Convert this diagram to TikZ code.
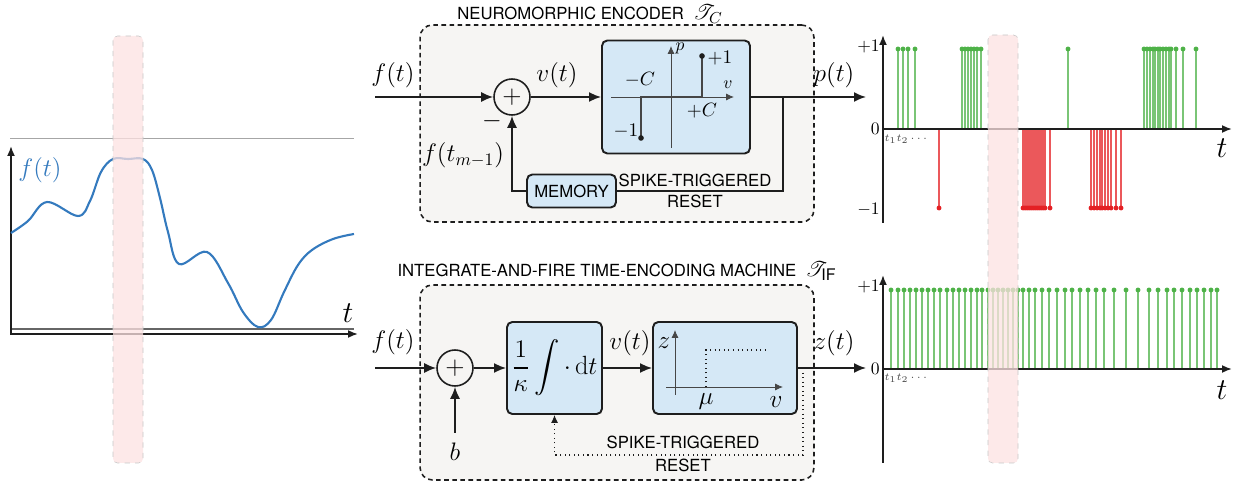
\documentclass[tikz,border=0pt]{standalone}
\usepackage{fontspec}
\setsansfont{TeX Gyre Heros}
\usepackage{amsmath}
\usepackage{mathrsfs}
\usetikzlibrary{positioning,arrows.meta}
\definecolor{encBlue}{RGB}{213,232,246}
\definecolor{encSoft}{RGB}{246,245,243}
\definecolor{encInk}{RGB}{30,30,30}
\definecolor{encStep}{RGB}{70,70,70}
\definecolor{encGreen}{RGB}{78,178,72}
\definecolor{encRed}{RGB}{228,32,36}
\definecolor{encCurve}{RGB}{52,122,190}
\definecolor{encPink}{RGB}{253,226,226}

\begin{document}
\begin{tikzpicture}[x=0.02cm, y=-0.02cm,
    encframe/.style={draw=encInk, line width=0.9pt, dash pattern=on 2.6pt off 2pt,
      rounded corners=7pt, fill=encSoft, inner sep=0pt},
    block/.style={draw=encInk, line width=1.1pt, rounded corners=3pt, fill=encBlue, inner sep=0pt},
    sumnode/.style={draw=encInk, circle, line width=0.9pt, minimum size=0.72cm, inner sep=0pt,
      font=\Large},
    arrow/.style={-{Latex[length=2.4mm,width=2mm]}, line width=1pt, color=encInk},
    wire/.style={line width=1pt, color=encInk},
    dotwire/.style={line width=0.6pt, dotted, color=encInk},
    maths/.style={font=\fontsize{14.5}{17}\selectfont, inner sep=1pt},
    caps/.style={font=\sffamily\fontsize{9.5}{11.5}\selectfont, align=center, inner sep=0pt},
    ticklbl/.style={font=\fontsize{10}{11}\selectfont, inner sep=0.5pt},
    boxaxis/.style={-{Latex[length=1.6mm,width=1.4mm]}, line width=0.5pt, color=encStep},
    plotaxis/.style={-{Latex[length=2mm,width=1.6mm]}, line width=1pt, color=encInk},
    stair/.style={line width=1.1pt, color=encStep},
    spikeup/.style={draw=encGreen!75, line width=0.7pt},
    spikedn/.style={draw=encRed!75, line width=0.6pt},
    hilite/.style={fill=encPink, fill opacity=0.75, draw=gray!45, dashed, line width=0.3pt,
      rounded corners=2.5pt}
  ]
    \useasboundingbox (0,0) rectangle (1242,486);

    % input signal
    \draw[gray!70, line width=0.5pt] (10,138) -- (354,138);
    \draw[gray!80!black, line width=0.6pt] (11,329) -- (354,329);
    \draw[plotaxis] (11,335) -- (11,146);
    \draw[plotaxis] (11,334) -- (358,334);
    \draw[encCurve, line width=1.2pt] plot[smooth, tension=0.6] coordinates {
      (11,233) (28,221) (47,202) (78,216) (90,201) (101,172) (113,159)
      (128,159) (143,159) (152,170) (160,198) (168,232) (179,264) (207,252)
      (228,283) (243,312) (258,327) (271,320) (284,292) (298,265) (312,250)
      (333,239) (354,234)};
    \node[maths, text=encCurve] (fSig) at (40,170) {$f(t)$};
    \node[font=\fontsize{17}{17}\selectfont] (tSig) at (348,313) {$t$};
    \draw[hilite] (113,36) rectangle (143,463);

    % neuromorphic encoder
    \node[encframe, minimum width=7.88cm, minimum height=3.94cm] (encC) at (617,123.5) {};
    \node[caps] (titleC) at (590,14)
      {NEUROMORPHIC ENCODER\ \ {\fontsize{13}{13}\selectfont$\mathscr{T}_C$}};
    \node[sumnode] (sumC) at (512,97) {$+$};
    \node[block, minimum width=2.96cm, minimum height=2.26cm] (quant) at (676,97) {};
    \node[block, caps, minimum width=1.78cm, minimum height=0.66cm] (mem) at (571.5,191) {MEMORY};

    \coordinate (inC) at (375,97);
    \coordinate (outC) at (866,97);
    \coordinate (tapC) at (783,97);
    \draw[arrow] (inC) -- (sumC);
    \draw[arrow] (sumC) -- (quant);
    \draw[arrow] (quant) -- (outC);
    \draw[wire] (tapC) |- (mem);
    \draw[arrow] (mem) -| (sumC);

    \node[maths] (fInC) at (393,75) {$f(t)$};
    \node[maths] (vC) at (557,75) {$v(t)$};
    \node[maths] (pC) at (834,75) {$p(t)$};
    \node[maths] (fMem) at (463,155) {$f(t_{m-1})$};
    \node[maths] (minusC) at (492,121) {$-$};
    \node[caps] (resetC) at (695,191) {SPIKE-TRIGGERED\\RESET};

    % sign quantiser
    \draw[boxaxis] (611,97) -- (734,97);
    \draw[boxaxis] (671,148) -- (671,46);
    \draw[stair] (641,138) -- (641,97) -- (702,97) -- (702,56);
    \fill[encInk] (641,138) circle[radius=1.6pt] (702,56) circle[radius=1.6pt];
    \node[ticklbl] (pAx) at (680,48) {$p$};
    \node[ticklbl] (vAx) at (728,85) {$v$};
    \node[ticklbl, font=\fontsize{11}{12}\selectfont] (negC) at (640,80) {$-C$};
    \node[ticklbl, font=\fontsize{11}{12}\selectfont] (posC) at (702,111) {$+C$};
    \node[ticklbl, font=\fontsize{11}{12}\selectfont] (posOne) at (720,58) {$+1$};
    \node[ticklbl, font=\fontsize{11}{12}\selectfont] (negOne) at (626,131) {$-1$};

    % integrate-and-fire encoder
    \node[encframe, minimum width=7.88cm, minimum height=3.9cm] (encIF) at (617,382.5) {};
    \node[caps] (titleIF) at (617,271)
      {INTEGRATE-AND-FIRE TIME-ENCODING MACHINE\ \ {\fontsize{13}{13}\selectfont$\mathscr{T}_{\textsf{IF}}$}};
    \node[sumnode] (sumIF) at (455,368) {$+$};
    \node[block, minimum width=1.9cm, minimum height=1.84cm, font=\fontsize{15}{17}\selectfont]
      (integ) at (554.5,368) {$\displaystyle\frac{1}{\kappa}\int\cdot\,\mathrm{d}t$};
    \node[block, minimum width=2.88cm, minimum height=1.84cm] (thresh) at (725,368) {};

    \coordinate (inIF) at (375,368);
    \coordinate (outIF) at (866,368);
    \coordinate (tapIF) at (803,368);
    \coordinate (bIn) at (455,433);
    \draw[arrow] (inIF) -- (sumIF);
    \draw[arrow] (bIn) -- (sumIF);
    \draw[arrow] (sumIF) -- (integ);
    \draw[arrow] (integ) -- (thresh);
    \draw[arrow] (thresh) -- (outIF);
    \draw[dotwire, -{Latex[length=1.6mm,width=1.4mm]}] (tapIF) -- ++(0,87) -| (integ);

    \node[maths] (fInIF) at (393,342) {$f(t)$};
    \node[maths] (vIF) at (630,343) {$v(t)$};
    \node[maths] (zIF) at (834,343) {$z(t)$};
    \node[maths] (bIF) at (455,452) {$b$};
    \node[caps] (resetIF) at (683,454) {SPIKE-TRIGGERED\\[2pt]RESET};

    % threshold
    \draw[boxaxis] (666,387) -- (783,387);
    \draw[boxaxis] (675,395) -- (675,330);
    \draw[dotted, line width=0.6pt, color=encInk] (706,387) |- (765,350);
    \node[maths] (zAx) at (664,343) {$z$};
    \node[maths] (muAx) at (706,402) {$\mu$};
    \node[maths] (vAxIF) at (776,402) {$v$};

    % output spikes, neuromorphic
    \draw[plotaxis] (883,223) -- (883,35);
    \foreach \x in {898,903,908,915,962,965,968,971,974,977,981,1068,
        1144,1147,1150,1153,1155,1158,1160,1163,1166,1169,1171,1176,1183,1196} {
      \draw[spikeup] (\x,129) -- (\x,49);
      \fill[encGreen] (\x,49) circle[radius=1.4pt];
    }
    \foreach \x in {939,1023,1025,1027,1029,1031,1033,1035,1037,1039,1041,1043,1045,1050,
        1091,1094,1097,1100,1102,1105,1108,1111,1116,1121} {
      \draw[spikedn] (\x,129) -- (\x,208);
      \fill[encRed] (\x,208) circle[radius=1.4pt];
    }
    \draw[plotaxis] (883,129) -- (1232,129);
    \node[ticklbl, anchor=east] (plusTop) at (881,47) {$+1$};
    \node[ticklbl, anchor=east] (zeroTop) at (881,129) {$0$};
    \node[ticklbl, anchor=east] (minusTop) at (881,210) {$-1$};
    \node[font=\fontsize{17}{17}\selectfont] (tTop) at (1222,148) {$t$};
    \node[font=\fontsize{6.5}{7}\selectfont, text=encStep] (tsTop) at (907,139) {$t_1t_2\cdots$};

    % output spikes, integrate-and-fire
    \draw[plotaxis] (883,463) -- (883,275);
    \foreach \x in {891,898,904,910,916,922,928,934,940,947,953,959,965,971,977,982,988,993,
        998,1003,1008,1013,1018,1023,1029,1035,1042,1049,1057,1065,1072,1080,1088,1096,
        1104,1114,1126,1138,1149,1158,1167,1174,1182,1190,1197,1204,1211,1217} {
      \draw[spikeup] (\x,369) -- (\x,290);
      \fill[encGreen] (\x,290) circle[radius=1.4pt];
    }
    \draw[plotaxis] (883,369) -- (1232,369);
    \node[ticklbl, anchor=east] (plusBot) at (881,287) {$+1$};
    \node[ticklbl, anchor=east] (zeroBot) at (881,369) {$0$};
    \node[font=\fontsize{17}{17}\selectfont] (tBot) at (1222,390) {$t$};
    \node[font=\fontsize{6.5}{7}\selectfont, text=encStep] (tsBot) at (907,378) {$t_1t_2\cdots$};

    \draw[hilite] (988,35) rectangle (1018,463);
  \end{tikzpicture}
\end{document}
